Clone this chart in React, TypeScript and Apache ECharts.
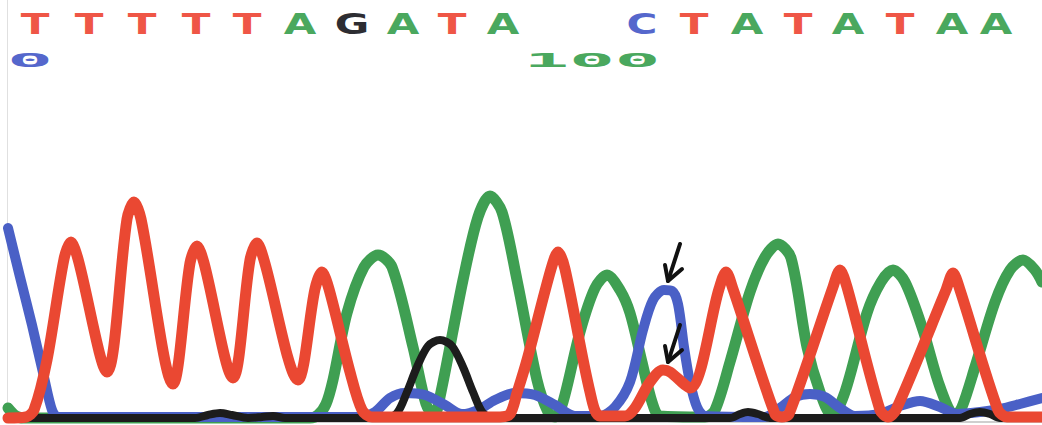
import React, { useEffect, useRef } from 'react';
import * as echarts from 'echarts';

// Base calls (top row) and their trace positions
const baseCalls = ['T', 'T', 'T', 'T', 'T', 'A', 'G', 'A', 'T', 'A', 'C', 'T', 'A', 'T', 'A', 'T', 'A', 'A'];
const basePositions = [35, 89, 142, 196, 247, 300, 352, 403, 452, 503, 642, 694, 747, 798, 848, 900, 952, 996];

// Ruler labels (base numbering)
const rulerLabels = ['0', '100'];
const rulerPositions = [30, 592];
const rulerBases = ['C', 'A'];

// Trace signals: [position, intensity]
const traceT: number[][] = [
  [8, 4], [26, 5], [34, 12], [47, 62], [64, 163], [71, 180], [78, 163], [107, 50],
  [127, 203], [134, 220], [141, 203], [173, 38],
  [190, 159], [197, 176], [204, 159], [233, 44],
  [250, 162], [257, 179], [264, 162], [298, 42],
  [315, 133], [322, 150], [329, 133], [350, 50], [362, 12], [372, 5], [420, 5], [500, 5],
  [510, 8], [517, 29], [527, 62], [551, 153], [558, 170], [565, 153], [590, 30], [600, 6],
  [625, 6], [635, 14], [650, 40], [663, 52], [670, 50], [690, 34],
  [719, 133], [726, 150], [733, 133], [775, 8], [782, 5], [789, 8],
  [833, 135], [840, 152], [847, 135], [880, 12], [888, 5], [896, 12],
  [946, 132], [953, 149], [960, 132], [998, 12], [1007, 5], [1020, 5], [1042, 5],
];
const traceA: number[][] = [
  [8, 14], [16, 6], [24, 4], [310, 4], [318, 7], [326, 18], [333, 42], [347, 109], [364, 155],
  [378, 167], [392, 155], [413, 75], [426, 18], [434, 6], [441, 30], [463, 142], [478, 205],
  [490, 226], [502, 210], [517, 142], [537, 42], [548, 10], [555, 5], [563, 20], [580, 90],
  [595, 134], [607, 147], [620, 132], [630, 109], [642, 60], [652, 20], [660, 6], [705, 5],
  [715, 12], [730, 60], [750, 130], [765, 165], [778, 178], [791, 164], [807, 75], [820, 30],
  [832, 6], [845, 30], [867, 109], [881, 140], [893, 152], [905, 140], [923, 92], [940, 35],
  [955, 6], [962, 15], [975, 55], [995, 120], [1010, 152], [1023, 162], [1035, 152], [1042, 140],
];
const traceC: number[][] = [
  [8, 194], [20, 145], [32, 97], [44, 45], [52, 12], [58, 5], [360, 5], [375, 10], [390, 24],
  [405, 29], [425, 27], [445, 17], [462, 8], [478, 12], [495, 22], [515, 29], [535, 27],
  [555, 17], [575, 6], [600, 6], [615, 15], [630, 40], [643, 92], [653, 122], [664, 132],
  [672, 131], [678, 118], [684, 75], [690, 40], [697, 15], [705, 6], [765, 5], [780, 14],
  [795, 25], [810, 28], [825, 25], [840, 14], [855, 6], [880, 8], [900, 16], [920, 21],
  [940, 15], [957, 8], [980, 10], [1000, 13], [1020, 18], [1042, 24],
];
const traceG: number[][] = [
  [8, 4], [195, 4], [208, 7], [220, 9], [232, 7], [248, 4], [262, 5], [273, 6], [285, 4],
  [385, 4], [397, 9], [407, 30], [417, 55], [428, 76], [440, 82], [452, 76], [463, 55],
  [473, 30], [483, 9], [495, 4], [730, 4], [740, 8], [748, 10], [758, 8], [770, 4],
  [960, 4], [970, 8], [980, 10], [990, 8], [1000, 4], [1042, 4],
];

// Annotated positions (arrows point at the double peak)
const arrowTargets: number[][] = [[668, 141], [668, 60]];

const traceColors: Record<string, string> = {
  T: '#ea4832',
  A: '#3f9f52',
  C: '#4a60c6',
  G: '#1c1c1c',
};
const textColors: Record<string, string> = {
  T: '#ef5646',
  A: '#4aa85e',
  C: '#5567cc',
  G: '#2d2d32',
};

export default function App() {
  const ref = useRef<HTMLDivElement>(null);
  useEffect(() => {
    if (!ref.current) return;
    const chart = echarts.init(ref.current, null, { renderer: 'svg' });
    const mk = (name: string, data: number[][], width: number, z: number) => ({
      type: 'line',
      name,
      data,
      smooth: 0.3,
      symbol: 'none',
      showSymbol: false,
      silent: true,
      z,
      lineStyle: { color: traceColors[name], width, cap: 'round', join: 'round' },
    });
    chart.setOption({
      animation: false,
      backgroundColor: '#ffffff',
      grid: { left: 7, right: 0, top: 0, bottom: 3, containLabel: false },
      xAxis: {
        type: 'value',
        min: 7,
        max: 1042,
        axisLine: { show: true, lineStyle: { color: '#cfcfcf', width: 2 } },
        axisTick: { show: false },
        axisLabel: { show: false },
        splitLine: { show: false },
      },
      yAxis: {
        type: 'value',
        min: 0,
        max: 422,
        axisLine: { show: true, lineStyle: { color: '#e0e0e0', width: 1 } },
        axisTick: { show: false },
        axisLabel: { show: false },
        splitLine: { show: false },
      },
      series: [
        mk('A', traceA, 11, 2),
        mk('C', traceC, 10, 3),
        mk('G', traceG, 8, 4),
        mk('T', traceT, 11, 5),
      ],
    });

    const graphic: any[] = [];
    baseCalls.forEach((b, i) => {
      const [px] = chart.convertToPixel({ gridIndex: 0 }, [basePositions[i], 0]) as number[];
      graphic.push({
        type: 'text',
        x: px,
        y: 24,
        scaleX: 1.45,
        silent: true,
        z: 100,
        style: {
          text: b,
          fill: textColors[b],
          fontSize: 29,
          fontWeight: 'bold',
          fontFamily: '"DejaVu Sans", sans-serif',
          align: 'center',
          verticalAlign: 'middle',
        },
      });
    });
    rulerLabels.forEach((t, i) => {
      const [px] = chart.convertToPixel({ gridIndex: 0 }, [rulerPositions[i], 0]) as number[];
      graphic.push({
        type: 'text',
        x: px,
        y: 60,
        scaleX: 3.6,
        scaleY: 0.95,
        silent: true,
        z: 100,
        style: {
          text: t,
          fill: textColors[rulerBases[i]],
          fontSize: 21,
          fontWeight: 'bold',
          fontFamily: '"DejaVu Sans Mono", monospace',
          align: 'center',
          verticalAlign: 'middle',
        },
      });
    });
    arrowTargets.forEach((p) => {
      const [tx, ty] = chart.convertToPixel({ gridIndex: 0 }, p) as number[];
      graphic.push({
        type: 'polyline',
        silent: true,
        z: 100,
        shape: { points: [[tx + 12, ty - 37], [tx, ty]] },
        style: { stroke: '#111', lineWidth: 4, lineCap: 'round', fill: null },
      });
      graphic.push({
        type: 'polyline',
        silent: true,
        z: 100,
        shape: { points: [[tx - 3, ty - 16], [tx, ty], [tx + 14, ty - 12]] },
        style: { stroke: '#111', lineWidth: 4, lineCap: 'round', lineJoin: 'round', fill: null },
      });
    });
    chart.setOption({ graphic });

    return () => chart.dispose();
  }, []);
  return (
    <div
      ref={ref}
      style={{ position: 'fixed', left: 0, top: 0, width: 1042, height: 425, background: '#fff' }}
    />
  );
}
